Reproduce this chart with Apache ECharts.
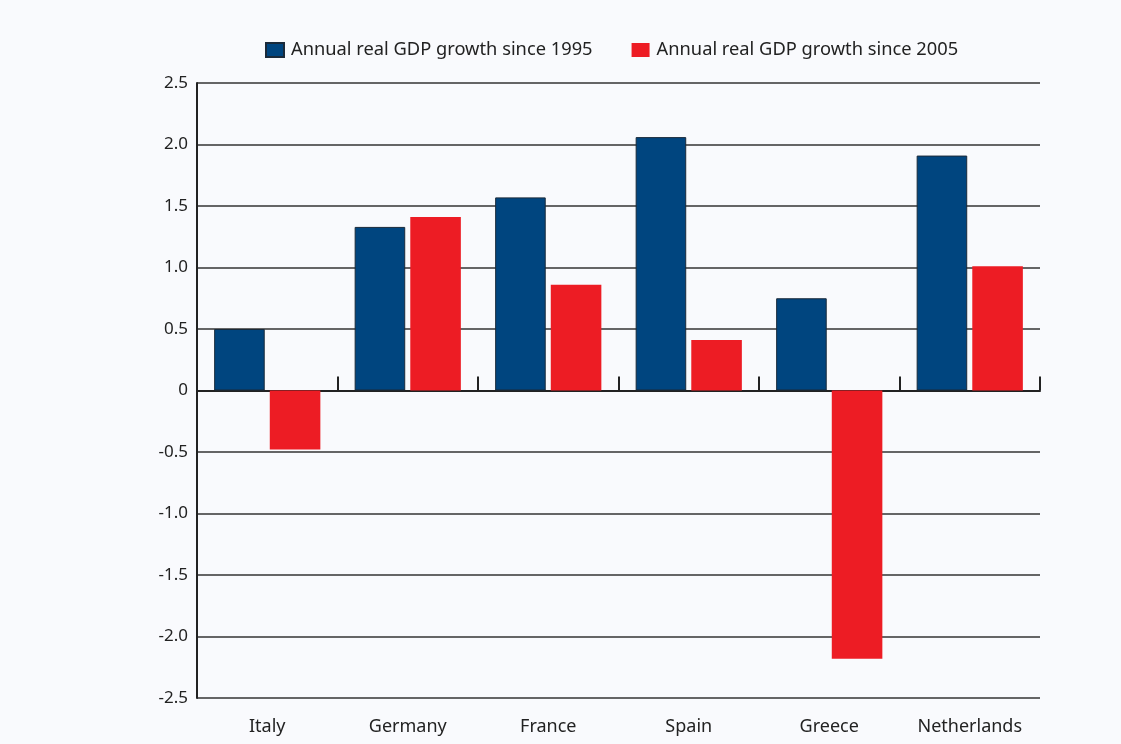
<!DOCTYPE html>
<html><head><meta charset="utf-8">
<script src="https://cdn.jsdelivr.net/npm/echarts@6/dist/echarts.min.js"></script>
<style>html,body{margin:0;padding:0;background:#f9fafd;}#c{width:1121px;height:744px;}</style>
</head><body><div id="c"></div>
<script>
const categories = ['Italy','Germany','France','Spain','Greece','Netherlands'];
const since1995 = [0.50, 1.33, 1.57, 2.06, 0.75, 1.91];
const since2005 = [-0.48, 1.41, 0.86, 0.41, -2.18, 1.01];
const seriesNames = ['Annual real GDP growth since 1995','Annual real GDP growth since 2005'];
const yTicks = ['-2.5','-2.0','-1.5','-1.0','-0.5','0','0.5','1.0','1.5','2.0','2.5'];

const chart = echarts.init(document.getElementById('c'));
const font = '"Noto Sans", "Open Sans", sans-serif';
chart.setOption({
  backgroundColor: '#f9fafd',
  animation: false,
  textStyle: {fontFamily: font},
  legend: {
    top: 36, left: 260,
    itemWidth: 18, itemHeight: 14, itemGap: 39,
    icon: 'rect',
    textStyle: {fontSize: 18.3, color: '#222', fontFamily: font, padding: [0, 0, 0, 2]},
    data: seriesNames
  },
  grid: {left: 197, right: 81, top: 83, bottom: 46, containLabel: false},
  xAxis: [{
    type: 'category', data: categories, position: 'bottom',
    axisLine: {show: true, onZero: true, lineStyle: {color: '#222', width: 2}},
    axisTick: {show: true, inside: true, length: 14, lineStyle: {color: '#222', width: 2}},
    axisLabel: {show: false}
  }, {
    type: 'category', data: categories, position: 'bottom',
    axisLine: {show: false, onZero: false}, axisTick: {show: false},
    axisLabel: {fontSize: 18, color: '#222', margin: 20, fontFamily: font}
  }],
  yAxis: {
    type: 'value', min: -2.5, max: 2.5, interval: 0.5,
    axisLine: {show: true, lineStyle: {color: '#222', width: 2}},
    axisTick: {show: false},
    axisLabel: {fontSize: 17, color: '#222', margin: 9, fontFamily: font,
      formatter: v => yTicks[Math.round((v + 2.5) / 0.5)]},
    splitLine: {show: true, lineStyle: {color: '#333', width: 1.5}}
  },
  series: [{
    name: seriesNames[0], type: 'bar', data: since1995, xAxisIndex: 0,
    barWidth: '36%', barGap: '10%',
    itemStyle: {color: '#00457f', borderColor: '#1a2a3a', borderWidth: 1}
  }, {
    name: seriesNames[1], type: 'bar', data: since2005, xAxisIndex: 0,
    barWidth: '36%', barGap: '10%',
    itemStyle: {color: '#ed1c24'}
  }]
});
</script></body></html>
